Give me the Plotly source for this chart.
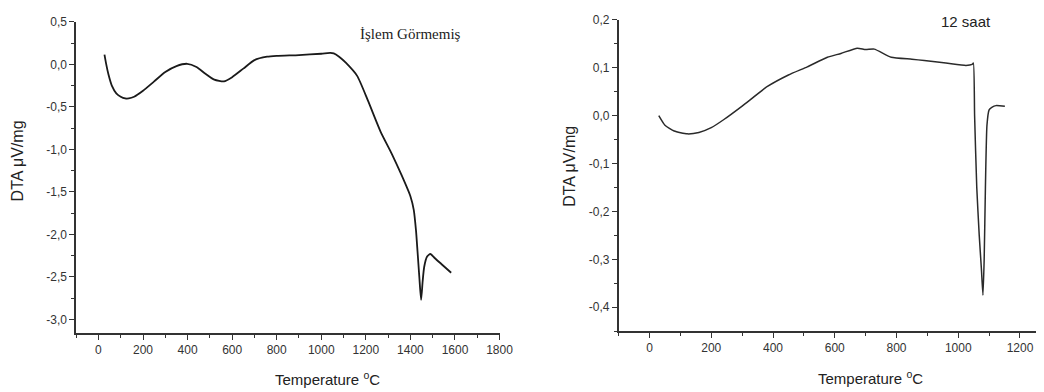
import plotly.graph_objects as go

# page offsets (browser body margin), horizontal capture scale and figure size
OX, OY = 8, 8
SX = 1044 / 1059
FW, FH = 1051, 384

# Left panel: untreated sample (İşlem Görmemiş)
temp_left = [27, 35, 45, 60, 80, 100, 120, 136, 160, 200, 250, 300, 350, 398, 440, 480,
             520, 563, 600, 650, 700, 757, 800, 900, 1000, 1040, 1056, 1080, 1110, 1161,
             1210, 1266, 1318, 1360, 1400, 1415, 1425, 1432, 1440, 1448, 1455, 1462, 1475,
             1490, 1510, 1540, 1583]
dta_left = [0.115, 0.0, -0.12, -0.25, -0.34, -0.38, -0.40, -0.40, -0.38, -0.31, -0.20, -0.09,
            -0.02, 0.007, -0.03, -0.11, -0.18, -0.20, -0.15, -0.05, 0.05, 0.09, 0.10, 0.11,
            0.125, 0.135, 0.13, 0.09, 0.02, -0.135, -0.43, -0.79, -1.06, -1.30, -1.55, -1.71,
            -1.95, -2.2, -2.5, -2.77, -2.55, -2.38, -2.26, -2.23, -2.28, -2.35, -2.45]

# Right panel: 12 saat
temp_right = [30, 50, 80, 122, 160, 200, 241, 300, 382, 450, 511, 576, 620, 673, 700, 728, 783,
              850, 890, 960, 1025, 1045, 1049, 1053, 1060, 1068, 1075, 1080, 1084, 1088, 1093,
              1100, 1110, 1122, 1151]
dta_right = [0.0, -0.02, -0.032, -0.038, -0.035, -0.025, -0.008, 0.02, 0.061, 0.085, 0.102,
             0.122, 0.130, 0.141, 0.138, 0.139, 0.122, 0.118, 0.115, 0.11, 0.105, 0.107, 0.110,
             0.0, -0.15, -0.25, -0.32, -0.375, -0.3, -0.15, -0.02, 0.012, 0.018, 0.021, 0.0197]

xticks_left = [0, 200, 400, 600, 800, 1000, 1200, 1400, 1600, 1800]
xticks_right = [0, 200, 400, 600, 800, 1000, 1200]
yticks_left = [0.5, 0.0, -0.5, -1.0, -1.5, -2.0, -2.5, -3.0]
yticks_right = [0.2, 0.1, 0.0, -0.1, -0.2, -0.3, -0.4]
ylabels_left = ["0,5", "0,0", "-0,5", "-1,0", "-1,5", "-2,0", "-2,5", "-3,0"]
ylabels_right = ["0,2", "0,1", "0,0", "-0,1", "-0,2", "-0,3", "-0,4"]

AX = "#333333"
tickfont = dict(family="Liberation Sans, Arial, sans-serif", size=12, color="#333333")


def px(x):
    return min(1.0, (x / SX - OX) / FW)


def py(y):
    return min(1.0, 1 - (y - OY) / FH)


fig = go.Figure()
fig.add_trace(go.Scatter(x=temp_left, y=dta_left, mode="lines",
                         line=dict(color="#1a1a1a", width=1.8, shape="spline", smoothing=0.6),
                         xaxis="x", yaxis="y", showlegend=False))
fig.add_trace(go.Scatter(x=temp_right, y=dta_right, mode="lines",
                         line=dict(color="#2a2a2a", width=1.5, shape="spline", smoothing=0.5),
                         xaxis="x2", yaxis="y2", showlegend=False))


def xax(domain, rng, ticks, anchor):
    return dict(domain=domain, range=rng, tickvals=ticks, ticktext=[str(t) for t in ticks],
                showline=True, linecolor=AX, linewidth=1.5, ticks="outside", ticklen=5,
                tickwidth=1.2, tickcolor=AX, showgrid=False, zeroline=False, tickfont=tickfont,
                ticklabeloverflow="allow",
                minor=dict(ticks="outside", ticklen=3, tickcolor=AX, dtick=100, tick0=0,
                           showgrid=False),
                anchor=anchor)


def yax(domain, rng, ticks, labels, mdt, anchor):
    return dict(domain=domain, range=rng, tickvals=ticks, ticktext=labels,
                showline=True, linecolor=AX, linewidth=1.5, ticks="outside", ticklen=5,
                tickwidth=1.2, tickcolor=AX, showgrid=False, zeroline=False, tickfont=tickfont,
                ticklabeloverflow="allow",
                minor=dict(ticks="outside", ticklen=3, tickcolor=AX, dtick=mdt, tick0=0,
                           showgrid=False),
                anchor=anchor)


fig.update_layout(
    width=FW, height=FH,
    margin=dict(l=0, r=0, t=0, b=0),
    paper_bgcolor="white", plot_bgcolor="white",
    xaxis=xax([px(76), px(499)], [-100, 1800], xticks_left, "y"),
    yaxis=yax([py(332), py(15)], [-3.16, 0.5], yticks_left, ylabels_left, 0.25, "x"),
    xaxis2=xax([px(618), 1.0], [-100, 1281], xticks_right, "y2"),
    yaxis2=yax([py(330), py(13)], [-0.45, 0.2], yticks_right, ylabels_right, 0.05, "x2"),
)

ann = [
    dict(text="Temperature <sup>o</sup>C", x=px(327), y=py(378), size=15),
    dict(text="Temperature <sup>o</sup>C", x=px(870), y=py(377), size=15),
    dict(text="DTA μV/mg", x=px(17), y=py(157), textangle=-90, size=16),
    dict(text="DTA μV/mg", x=px(569), y=py(162), textangle=-90, size=16),
]
for a in ann:
    size = a.pop("size")
    fig.add_annotation(xref="paper", yref="paper", showarrow=False,
                       font=dict(family="Liberation Sans, Arial, sans-serif", size=size,
                                 color="#222222"),
                       xanchor="center", yanchor="middle", **a)

fig.add_annotation(text="İşlem Görmemiş", xref="paper", yref="paper", x=px(410), y=py(27),
                   showarrow=False, xanchor="center", yanchor="middle",
                   font=dict(family="Liberation Serif, Times New Roman, serif", size=15,
                             color="#222222"))
fig.add_annotation(text="12 saat", xref="paper", yref="paper", x=px(965), y=py(15),
                   showarrow=False, xanchor="center", yanchor="middle",
                   font=dict(family="Liberation Sans, Arial, sans-serif", size=15,
                             color="#222222"))

fig.write_html("out.html")
